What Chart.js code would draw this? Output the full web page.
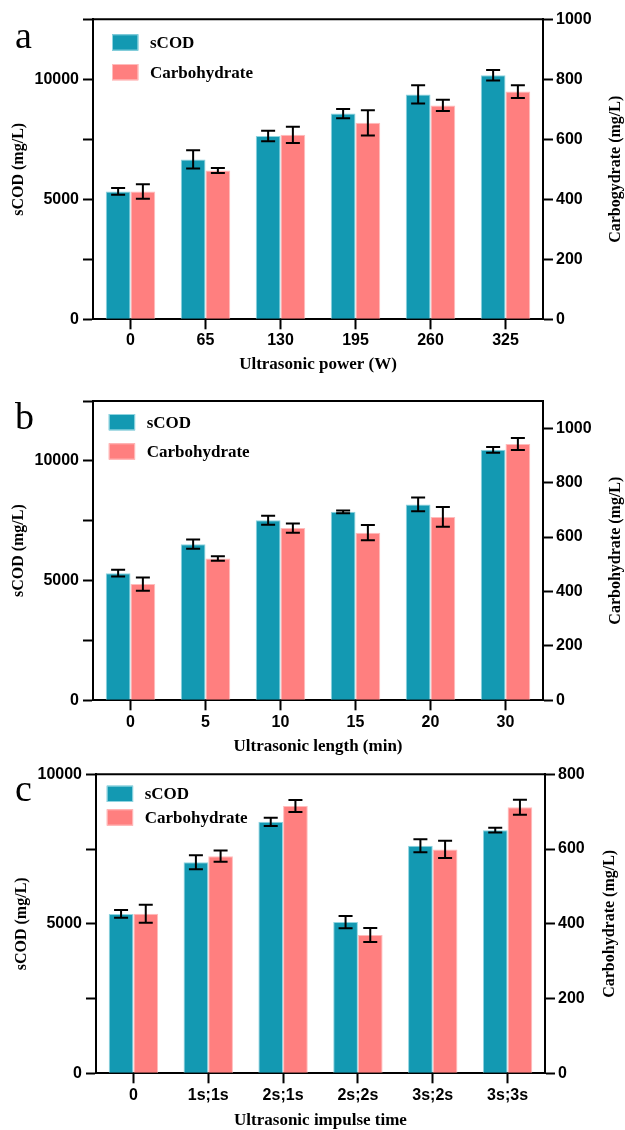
<!DOCTYPE html>
<html><head><meta charset="utf-8">
<script src="https://cdn.jsdelivr.net/npm/chart.js@4.4.0/dist/chart.umd.min.js"></script>
<style>
html,body{margin:0;padding:0;background:#fff;width:625px;height:1130px;overflow:hidden}
canvas{position:absolute;left:0;display:block}
</style></head><body>
<canvas id="ca" width="625" height="376" style="top:0px"></canvas>
<canvas id="cb" width="625" height="382" style="top:376px"></canvas>
<canvas id="cc" width="625" height="372" style="top:758px"></canvas>
<script>
// ---- data ----
const powerLabels = ['0','65','130','195','260','325'];
const powerSCOD = [5330, 6660, 7640, 8570, 9370, 10170];
const powerSCODErr = [140, 380, 220, 190, 380, 215];
const powerCarb = [426, 496, 615, 655, 713, 759];
const powerCarbErr = [24, 8, 27, 42, 19, 21];

const lengthLabels = ['0','5','10','15','20','30'];
const lengthSCOD = [5310, 6520, 7520, 7870, 8180, 10460];
const lengthSCODErr = [140, 195, 190, 60, 285, 120];
const lengthCarb = [427, 521, 633, 616, 674, 942];
const lengthCarbErr = [24, 8, 17, 28, 36, 22];

const impulseLabels = ['0','1s;1s','2s;1s','2s;2s','3s;2s','3s;3s'];
const impulseSCOD = [5330, 7060, 8410, 5060, 7610, 8130];
const impulseSCODErr = [130, 235, 135, 205, 215, 80];
const impulseCarb = [427, 581, 715, 370, 599, 712];
const impulseCarbErr = [24, 15, 16, 19, 23, 20];

const seriesNames = ['sCOD', 'Carbohydrate'];

// ---- style ----
const TEAL = '#1399b2', TEAL_EDGE = '#8fd4e0';
const PINK = '#ff7f7f', PINK_EDGE = '#ffbcbc';
const SANS = '"Liberation Sans", Arial, sans-serif';
const SERIF = '"Liberation Serif", "Times New Roman", serif';

const decorPlugin = {
  id: 'panelDecor',
  afterDatasetsDraw(chart, args, opts) {
    const ctx = chart.ctx;
    ctx.save();
    ctx.strokeStyle = '#000';
    ctx.lineWidth = 2;
    chart.data.datasets.forEach((ds, di) => {
      const meta = chart.getDatasetMeta(di);
      const ys = chart.scales[ds.yAxisID];
      meta.data.forEach((bar, i) => {
        const v = ds.data[i], e = ds.errors[i];
        const yT = ys.getPixelForValue(v + e), yB = ys.getPixelForValue(v - e);
        const x = bar.x, hw = opts.capHalf;
        ctx.beginPath();
        ctx.moveTo(x, yT); ctx.lineTo(x, yB);
        ctx.moveTo(x - hw, yT); ctx.lineTo(x + hw, yT);
        ctx.moveTo(x - hw, yB); ctx.lineTo(x + hw, yB);
        ctx.stroke();
      });
    });
    const a = chart.chartArea;
    ctx.beginPath();
    ctx.moveTo(a.left - 1, a.top); ctx.lineTo(a.right + 1, a.top);
    ctx.stroke();
    ctx.restore();
  },
  afterDraw(chart, args, opts) {
    const ctx = chart.ctx;
    const a = chart.chartArea;
    ctx.save();
    // legend
    const L = opts.legend;
    chart.data.datasets.forEach((ds, i) => {
      const y = L.y + i * L.gap;
      ctx.fillStyle = ds.backgroundColor;
      ctx.fillRect(L.x, y, L.w, L.h);
      ctx.strokeStyle = ds.borderColor;
      ctx.lineWidth = 1;
      ctx.strokeRect(L.x + 0.5, y + 0.5, L.w - 1, L.h - 1);
      ctx.fillStyle = '#000';
      ctx.font = 'bold 17px ' + SERIF;
      ctx.textBaseline = 'middle';
      ctx.textAlign = 'left';
      ctx.fillText(ds.label, L.textX, y + L.h / 2 + 1);
    });
    // panel letter
    ctx.font = '38px ' + SERIF;
    ctx.textBaseline = 'alphabetic';
    ctx.fillText(opts.letter, opts.letterX, opts.letterY);
    // right axis title (reads bottom-to-top)
    ctx.translate(opts.rightTitleX, (a.top + a.bottom) / 2);
    ctx.rotate(-Math.PI / 2);
    ctx.font = 'bold 16px ' + SERIF;
    ctx.textAlign = 'center';
    ctx.textBaseline = 'middle';
    ctx.fillText(opts.rightTitle, 0, 0);
    ctx.restore();
  }
};

function buildChart(id, p) {
  const tickFont = {family: SANS, size: 16, weight: 'bold'};
  const axisGrid = {display: true, drawOnChartArea: false, drawTicks: true, tickLength: 10, tickWidth: 2, tickColor: '#000'};
  return new Chart(document.getElementById(id), {
    type: 'bar',
    data: {
      labels: p.labels,
      datasets: [
        {label: seriesNames[0], data: p.scod, errors: p.scodErr, yAxisID: 'y',
         backgroundColor: TEAL, borderColor: TEAL_EDGE, borderWidth: 1, borderSkipped: 'bottom'},
        {label: seriesNames[1], data: p.carb, errors: p.carbErr, yAxisID: 'y1',
         backgroundColor: PINK, borderColor: PINK_EDGE, borderWidth: 1, borderSkipped: 'bottom'}
      ]
    },
    options: {
      responsive: false, animation: false, devicePixelRatio: 1,
      layout: {padding: {top: p.area.top, left: 0, right: 0, bottom: 0}},
      datasets: {bar: {barPercentage: 1, categoryPercentage: 0.66}},
      plugins: {
        legend: {display: false}, tooltip: {enabled: false},
        panelDecor: {capHalf: 7, legend: p.legend, letter: p.letter, letterX: 15, letterY: p.letterY,
                     rightTitle: p.rightTitle, rightTitleX: p.rightTitleX}
      },
      scales: {
        x: {
          offset: true, z: 1,
          grid: Object.assign({}, axisGrid, {offset: false}),
          border: {display: true, color: '#000', width: 2},
          ticks: {color: '#000', font: tickFont, padding: p.xTickPad, maxRotation: 0, autoSkip: false},
          title: {display: true, text: p.xTitle, color: '#000',
                  font: {family: SERIF, size: 17, weight: 'bold', lineHeight: 1},
                  padding: {top: 0, bottom: p.xTitlePad}},
          afterFit: s => { s.height = p.h - p.area.bottom; }
        },
        y: {
          position: 'left', min: 0, max: p.yMax, z: 1,
          grid: axisGrid,
          border: {display: true, color: '#000', width: 2},
          ticks: {stepSize: 2500, color: '#000', font: tickFont, padding: 4,
                  callback: v => (v % 5000 === 0 ? String(v) : '')},
          title: {display: true, text: 'sCOD (mg/L)', color: '#000',
                  font: {family: SERIF, size: 16, weight: 'bold', lineHeight: 1},
                  padding: {top: p.yTitlePad, bottom: 0}},
          afterFit: s => { s.width = p.area.left; }
        },
        y1: {
          position: 'right', min: 0, max: p.y1Max, z: 1,
          grid: axisGrid,
          border: {display: true, color: '#000', width: 2},
          ticks: {stepSize: 200, includeBounds: false, color: '#000', font: tickFont, padding: 3,
                  callback: v => String(v)},
          afterFit: s => { s.width = 625 - p.area.right; }
        }
      }
    },
    plugins: [decorPlugin]
  });
}

buildChart('ca', {
  labels: powerLabels, scod: powerSCOD, scodErr: powerSCODErr, carb: powerCarb, carbErr: powerCarbErr,
  h: 376, area: {top: 19.3, bottom: 319.3, left: 93, right: 543},
  yMax: 12500, y1Max: 1000, xTitle: 'Ultrasonic power (W)', xTitlePad: 2.5, xTickPad: 2, yTitlePad: 11,
  rightTitle: 'Carbogydrate (mg/L)', rightTitleX: 616,
  legend: {x: 112, y: 34.3, gap: 29.7, w: 26.3, h: 16.3, textX: 150},
  letter: 'a', letterY: 48
});
buildChart('cb', {
  labels: lengthLabels, scod: lengthSCOD, scodErr: lengthSCODErr, carb: lengthCarb, carbErr: lengthCarbErr,
  h: 382, area: {top: 25, bottom: 324.3, left: 93, right: 543},
  yMax: 12500, y1Max: 1100, xTitle: 'Ultrasonic length (min)', xTitlePad: 2.8, xTickPad: 3, yTitlePad: 11,
  rightTitle: 'Carbohydrate (mg/L)', rightTitleX: 616,
  legend: {x: 108.8, y: 38, gap: 29.3, w: 26.3, h: 16.3, textX: 146.7},
  letter: 'b', letterY: 53.3
});
buildChart('cc', {
  labels: impulseLabels, scod: impulseSCOD, scodErr: impulseSCODErr, carb: impulseCarb, carbErr: impulseCarbErr,
  h: 372, area: {top: 16.3, bottom: 315.3, left: 96, right: 545},
  yMax: 10000, y1Max: 800, xTitle: 'Ultrasonic impulse time', xTitlePad: 0.5, xTickPad: 3, yTitlePad: 14,
  rightTitle: 'Carbohydrate (mg/L)', rightTitleX: 610,
  legend: {x: 106.8, y: 27.7, gap: 23.6, w: 26.3, h: 16.3, textX: 144.7},
  letter: 'c', letterY: 42.7
});
</script>
</body></html>
